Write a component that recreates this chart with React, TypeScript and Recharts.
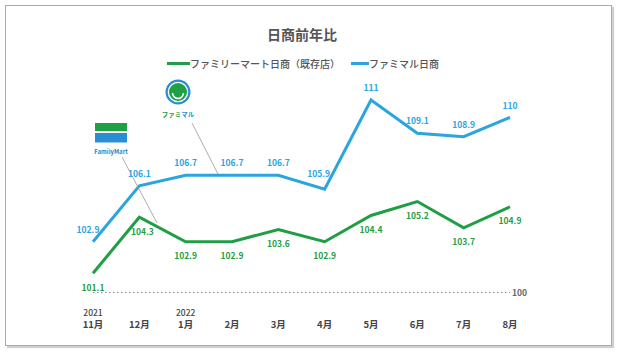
import React from 'react';
import { LineChart, Line, XAxis, YAxis, ReferenceLine, LabelList, Legend } from 'recharts';

const months = ['11月', '12月', '1月', '2月', '3月', '4月', '5月', '6月', '7月', '8月'];
const years = ['2021', '', '2022', '', '', '', '', '', '', ''];
const familyMart = [101.1, 104.3, 102.9, 102.9, 103.6, 102.9, 104.4, 105.2, 103.7, 104.9];
const famimaru = [102.9, 106.1, 106.7, 106.7, 106.7, 105.9, 111, 109.1, 108.9, 110];
const seriesNames = ['ファミリーマート日商（既存店）', 'ファミマル日商'];
const title = '日商前年比';

const data = months.map((m, i) => ({ month: m, year: years[i], fm: familyMart[i], fmr: famimaru[i] }));

const GREEN = '#1f9e44';
const BLUE = '#2aa5de';
const FONT = '"Noto Sans CJK JP", "Noto Sans", sans-serif';

const blueOffsets: Record<number, [number, number]> = { 0: [-5, 0], 5: [-6, -3] };

const BlueLabel = (p: any) => {
  const o = blueOffsets[p.index] || [0, 0];
  return (
    <text x={p.x + o[0]} y={p.y - 13 + o[1]} textAnchor="middle" dominantBaseline="central"
      fill={BLUE} fontSize={8.5} fontWeight={600} fontFamily={FONT}>{p.value}</text>
  );
};
const GreenLabel = (p: any) => (
  <text x={p.x + (p.index === 1 ? 3 : 0)} y={p.y + 13.5} textAnchor="middle" dominantBaseline="central"
    fill={GREEN} fontSize={8.5} fontWeight={600} fontFamily={FONT}>{p.value}</text>
);

const Tick = (p: any) => {
  const i = p.index;
  return (
    <g>
      {years[i] ? (
        <text x={p.x} y={p.y + 19.5} textAnchor="middle" dominantBaseline="central" fill="#444"
          fontSize={8.5} fontWeight={500} fontFamily={FONT}>{years[i]}</text>
      ) : null}
      <text x={p.x} y={p.y + 31.5} textAnchor="middle" dominantBaseline="central" fill="#444"
        fontSize={9.5} fontWeight={600} fontFamily={FONT}>{p.payload.value}</text>
    </g>
  );
};

const LegendContent = () => (
  <div style={{ display: 'flex', justifyContent: 'flex-start', alignItems: 'center', fontFamily: FONT, fontSize: 10, fontWeight: 500, color: '#555' }}>
    <span style={{ display: 'inline-block', width: 23, height: 3, background: GREEN }} />
    <span style={{ display: 'inline-block', width: 153, whiteSpace: 'nowrap' }}>{seriesNames[0]}</span>
    <span style={{ display: 'inline-block', width: 18, height: 3, background: BLUE, marginLeft: 8 }} />
    <span style={{ whiteSpace: 'nowrap' }}>{seriesNames[1]}</span>
  </div>
);

export default function App() {
  return (
    <div style={{ position: 'absolute', left: 0, top: 0, width: 617, height: 354, background: '#fff' }}>
      <div style={{ position: 'absolute', left: 5, top: 5, width: 605, height: 339, border: '1px solid #aaa', boxShadow: '2px 2px 1px #d0d0d0', background: '#fff' }} />
      <div style={{ position: 'absolute', left: 0, top: 0 }}>
        <LineChart width={617} height={354} data={data} margin={{ top: 82.5, right: 107, left: 93, bottom: 11.5 }}>
          <text x={302} y={34} textAnchor="middle" dominantBaseline="central" fill="#555" fontSize={14} fontWeight={700} fontFamily={FONT}>{title}</text>
          <XAxis dataKey="month" axisLine={false} tickLine={false} tickSize={0} tickMargin={0} height={50} interval={0} tick={<Tick />} />
          <YAxis hide domain={[100, 112]} />
          <Legend verticalAlign="middle" layout="horizontal" align="center" content={<LegendContent />}
            wrapperStyle={{ position: 'absolute', top: 56, left: 167, width: 300 }} />
          <ReferenceLine y={100} stroke="#888" strokeDasharray="1.5 2.5" strokeWidth={1}
            label={{ value: '100', position: 'right', offset: 2, fill: '#666', fontSize: 8.5, fontWeight: 600, fontFamily: FONT }} />
          <Line type="linear" dataKey="fm" name={seriesNames[0]} stroke={GREEN} strokeWidth={3} dot={false} isAnimationActive={false}>
            <LabelList dataKey="fm" content={<GreenLabel />} />
          </Line>
          <Line type="linear" dataKey="fmr" name={seriesNames[1]} stroke={BLUE} strokeWidth={3} dot={false} isAnimationActive={false}>
            <LabelList dataKey="fmr" content={<BlueLabel />} />
          </Line>
        </LineChart>
      </div>
      <svg width={617} height={354} style={{ position: 'absolute', left: 0, top: 0, pointerEvents: 'none' }}>
        <rect x={95} y={123} width={32} height={8} fill="#1fa046" />
        <rect x={95} y={133} width={32} height={9.5} fill="#2a8fd2" />
        <text x={111} y={151.5} textAnchor="middle" dominantBaseline="central" fill="#2a7fc4" fontSize={6} fontWeight={700} fontFamily={FONT}>FamilyMart</text>
        <line x1={122} y1={157} x2={157} y2={223} stroke="#999" strokeWidth={0.8} />
        <circle cx={178} cy={92} r={12.5} fill="#2a8fd2" />
        <circle cx={178} cy={92} r={10.3} fill="#fff" />
        <circle cx={178} cy={92} r={9} fill="#1fa046" />
        <path d="M172.5 93 A5.5 5.5 0 0 0 183.5 93" stroke="#fff" strokeWidth={1.6} fill="none" />
        <text x={178} y={114} textAnchor="middle" dominantBaseline="central" fontSize={6.5} fontWeight={700} fontFamily={FONT}>
          <tspan fill="#1fa046">ファミ</tspan><tspan fill="#2a8fd2">マル</tspan>
        </text>
        <line x1={192} y1={123} x2={218} y2={174} stroke="#999" strokeWidth={0.8} />
      </svg>
    </div>
  );
}
